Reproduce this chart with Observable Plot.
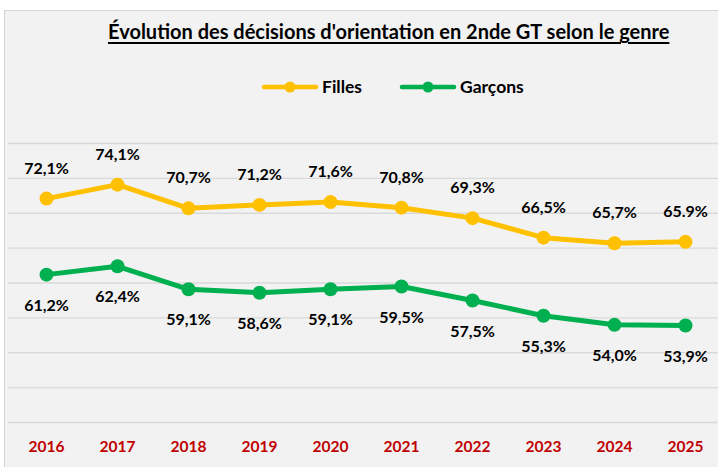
<!DOCTYPE html>
<html>
<head>
<meta charset="utf-8">
<script src="https://cdn.jsdelivr.net/npm/d3@7"></script>
<script src="https://cdn.jsdelivr.net/npm/@observablehq/plot@0.6"></script>
<style>
  html, body { margin: 0; padding: 0; background: #ffffff; }
  body { width: 718px; height: 467px; overflow: hidden; font-family: Lato, "Open Sans", sans-serif; }
  #wrap { position: relative; margin-top: 10px; margin-left: 4px; width: 714px; height: 457px;
          background: #f2f2f2; border-top: 1px solid #d4d4d4; border-left: 1px solid #d4d4d4; box-sizing: border-box; }
  #title { height: 40px; padding-left: 103px; font-weight: bold; font-size: 20px; line-height: 40px;
           text-decoration: underline; text-underline-offset: 3px; white-space: nowrap; color: #000; }
  #legend { height: 74px; position: relative; }
  .item { position: absolute; top: 25px; display: flex; align-items: center; font-weight: bold; font-size: 17.5px; color: #000; }
  .item svg { margin-right: 3px; }
  #chart { display: block; }
</style>
</head>
<body>
<div id="wrap">
  <div id="title">Évolution des décisions d'orientation en 2nde GT selon le genre</div>
  <div id="legend"></div>
  <div id="chart"></div>
</div>
<script>
const years = ["2016","2017","2018","2019","2020","2021","2022","2023","2024","2025"];
const filles = [72.1, 74.1, 70.7, 71.2, 71.6, 70.8, 69.3, 66.5, 65.7, 65.9];
const garcons = [61.2, 62.4, 59.1, 58.6, 59.1, 59.5, 57.5, 55.3, 54.0, 53.9];
const fillesLabels = ["72,1%","74,1%","70,7%","71,2%","71,6%","70,8%","69,3%","66,5%","65,7%","65.9%"];
const garconsLabels = ["61,2%","62,4%","59,1%","58,6%","59,1%","59,5%","57,5%","55,3%","54,0%","53,9%"];
const gridValues = [40, 45, 50, 55, 60, 65, 70, 75, 80];
const seriesNames = ["Filles", "Garçons"];
const seriesColors = ["#ffc000", "#00b050"];

const dataF = years.map((y, i) => ({year: y, value: filles[i], label: fillesLabels[i]}));
const dataG = years.map((y, i) => ({year: y, value: garcons[i], label: garconsLabels[i]}));

// Legend
const legend = document.getElementById("legend");
const legendX = [256, 394];
seriesNames.forEach((name, i) => {
  const item = document.createElement("div");
  item.className = "item";
  item.style.left = legendX[i] + "px";
  item.innerHTML = `<svg width="58" height="14"><line x1="3" x2="55" y1="7" y2="7" stroke="${seriesColors[i]}" stroke-width="4.5" stroke-linecap="round"/><circle cx="29" cy="7" r="5.5" fill="${seriesColors[i]}"/></svg><span>${name}</span>`;
  legend.appendChild(item);
});

const chart = Plot.plot({
  width: 713,
  height: 342,
  marginLeft: 3,
  marginRight: 0,
  marginTop: 18,
  marginBottom: 45,
  style: {fontFamily: "Lato, 'Open Sans', sans-serif", background: "transparent", overflow: "visible"},
  x: {type: "point", domain: years, range: [38.5, 682], padding: 0, label: null},
  y: {domain: [40, 80], axis: null},
  marks: [
    Plot.ruleY(gridValues, {stroke: "#d9d9d9", strokeWidth: 1.4}),
    Plot.axisX({tickSize: 0, tickPadding: 18, fontSize: 15.5, fontWeight: "bold", fill: "#c00000", label: null}),
    Plot.line(dataF, {x: "year", y: "value", stroke: seriesColors[0], strokeWidth: 5}),
    Plot.line(dataG, {x: "year", y: "value", stroke: seriesColors[1], strokeWidth: 5}),
    Plot.dot(dataF, {x: "year", y: "value", r: 7, fill: seriesColors[0]}),
    Plot.dot(dataG, {x: "year", y: "value", r: 7, fill: seriesColors[1]}),
    Plot.text(dataF, {x: "year", y: "value", text: "label", dy: -30, fontSize: 16, fontWeight: "bold", fill: "#000"}),
    Plot.text(dataG, {x: "year", y: "value", text: "label", dy: 31, fontSize: 16, fontWeight: "bold", fill: "#000"})
  ]
});
document.getElementById("chart").appendChild(chart);
</script>
</body>
</html>
